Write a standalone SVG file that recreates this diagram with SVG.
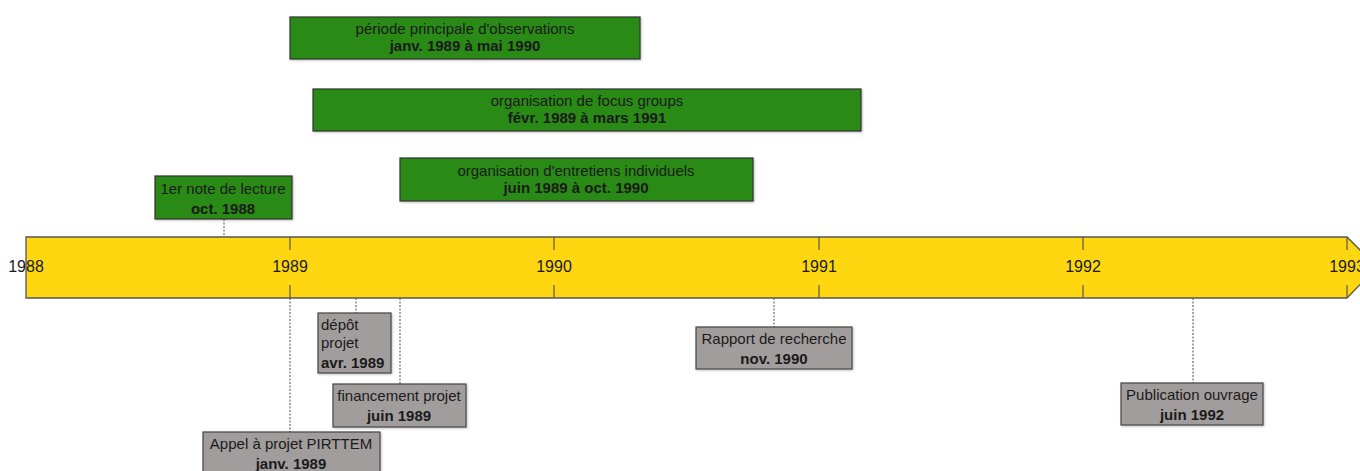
<svg xmlns="http://www.w3.org/2000/svg" width="1360" height="471" viewBox="0 0 1360 471">
<defs>
<filter id="sh" x="-5%" y="-5%" width="110%" height="120%"><feDropShadow dx="1" dy="1" stdDeviation="0.8" flood-color="#000" flood-opacity="0.25"/></filter>
</defs>
<style>
text{font-family:"Liberation Sans",Arial,sans-serif;font-size:15px;fill:#1a1a1a}
.b{font-weight:bold}
.m{text-anchor:middle}
.g{fill:#2a8a14;stroke:#333;stroke-width:1.2;filter:url(#sh)}
.r{fill:#a29d9d;stroke:#444;stroke-width:1.2;filter:url(#sh)}
.c{stroke:#888;stroke-width:1.5;stroke-dasharray:2,1.5;fill:none}
.t{stroke:#555;stroke-width:1.2}
.y{font-size:16px}
</style>
<rect width="1360" height="471" fill="#fff"/>
<g id="connectors">
<line class="c" x1="224" y1="219" x2="224" y2="237"/>
<line class="c" x1="356" y1="298" x2="356" y2="313"/>
<line class="c" x1="400" y1="298" x2="400" y2="384"/>
<line class="c" x1="290" y1="298" x2="290" y2="432"/>
<line class="c" x1="774" y1="298" x2="774" y2="327"/>
<line class="c" x1="1193" y1="298" x2="1193" y2="383"/>
</g>
<g id="timeline">
<polygon points="26,237 1347,237 1377,267 1347,298 26,298" fill="#fed710" stroke="#555" stroke-width="1.3"/>
<line class="t" x1="1347" y1="237" x2="1347" y2="250"/><line class="t" x1="1347" y1="285" x2="1347" y2="298"/>
<line class="t" x1="290" y1="237" x2="290" y2="250"/><line class="t" x1="290" y1="285" x2="290" y2="298"/>
<line class="t" x1="554" y1="237" x2="554" y2="250"/><line class="t" x1="554" y1="285" x2="554" y2="298"/>
<line class="t" x1="819" y1="237" x2="819" y2="250"/><line class="t" x1="819" y1="285" x2="819" y2="298"/>
<line class="t" x1="1083" y1="237" x2="1083" y2="250"/><line class="t" x1="1083" y1="285" x2="1083" y2="298"/>
<text class="m y" x="26" y="272">1988</text>
<text class="m y" x="290" y="272">1989</text>
<text class="m y" x="554" y="272">1990</text>
<text class="m y" x="819" y="272">1991</text>
<text class="m y" x="1083" y="272">1992</text>
<text class="m y" x="1347" y="272">1993</text>
</g>
<g id="observations">
<rect class="g" x="290" y="17" width="350" height="42"/>
<text class="m" x="465" y="34">période principale d'observations</text>
<text class="m b" x="465" y="51">janv. 1989 à mai 1990</text>
</g>
<g id="focus">
<rect class="g" x="313" y="89" width="548" height="42"/>
<text class="m" x="587" y="106">organisation de focus groups</text>
<text class="m b" x="587" y="123">févr. 1989 à mars 1991</text>
</g>
<g id="entretiens">
<rect class="g" x="400" y="158" width="353" height="43"/>
<text class="m" x="576" y="176">organisation d'entretiens individuels</text>
<text class="m b" x="576" y="193">juin 1989 à oct. 1990</text>
</g>
<g id="note">
<rect class="g" x="155" y="176" width="137" height="43"/>
<text class="m" x="223" y="194">1er note de lecture</text>
<text class="m b" x="223" y="214">oct. 1988</text>
</g>
<g id="depot">
<rect class="r" x="318" y="313" width="73" height="60"/>
<text x="321" y="330">dépôt</text>
<text x="321" y="348">projet</text>
<text class="b" x="321" y="368">avr. 1989</text>
</g>
<g id="financement">
<rect class="r" x="333" y="384" width="133" height="43"/>
<text class="m" x="399" y="401">financement projet</text>
<text class="m b" x="399" y="421">juin 1989</text>
</g>
<g id="appel">
<rect class="r" x="203" y="432" width="177" height="45"/>
<text class="m" x="291" y="449">Appel à projet PIRTTEM</text>
<text class="m b" x="291" y="469">janv. 1989</text>
</g>
<g id="rapport">
<rect class="r" x="696" y="327" width="156" height="42"/>
<text class="m" x="774" y="344">Rapport de recherche</text>
<text class="m b" x="774" y="364">nov. 1990</text>
</g>
<g id="publication">
<rect class="r" x="1121" y="383" width="142" height="42"/>
<text class="m" x="1192" y="400">Publication ouvrage</text>
<text class="m b" x="1192" y="420">juin 1992</text>
</g>
</svg>
